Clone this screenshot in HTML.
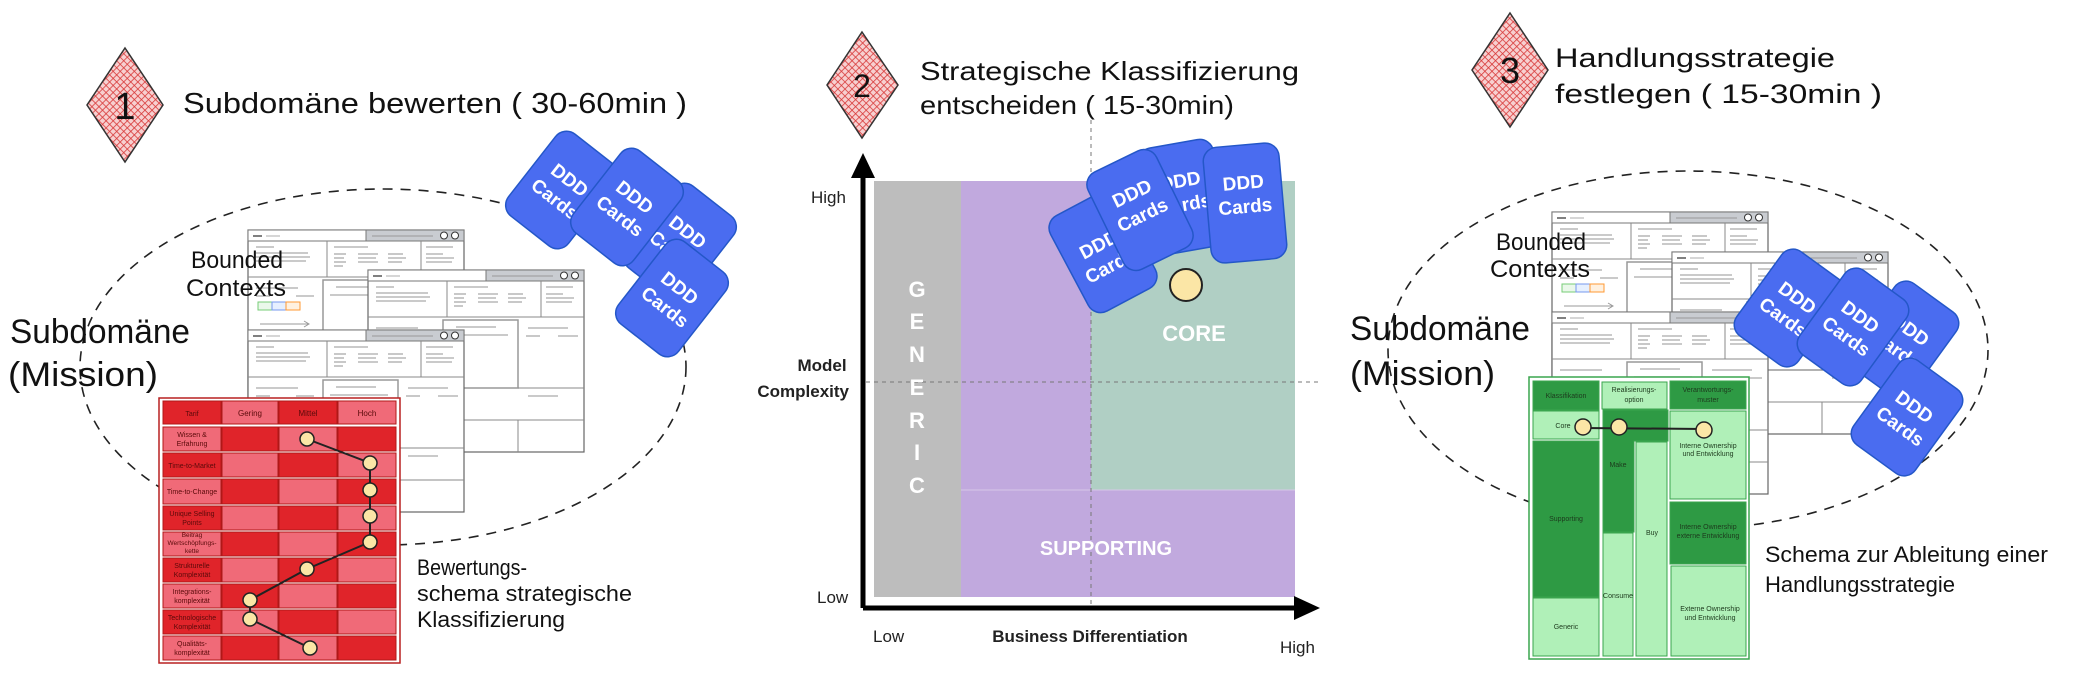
<!DOCTYPE html>
<html><head><meta charset="utf-8"><style>
html,body{margin:0;padding:0;background:#fff;}
svg{display:block;}
.hw{font-family:"Liberation Sans",sans-serif;fill:#111;}
.tiny{font-family:"Liberation Sans",sans-serif;font-size:7px;}
.card text{font-family:"Liberation Sans",sans-serif;font-size:19px;font-weight:bold;fill:#fff;text-anchor:middle;}
</style></head><body>
<svg width="2080" height="673" viewBox="0 0 2080 673" xmlns="http://www.w3.org/2000/svg">
<defs>
<pattern id="hatch" width="5" height="5" patternUnits="userSpaceOnUse" patternTransform="rotate(45)">
<rect width="5" height="5" fill="#f7d0d0"/>
<line x1="0" y1="0" x2="0" y2="5" stroke="#d83a3a" stroke-width="1.6"/>
<line x1="0" y1="0" x2="5" y2="0" stroke="#d83a3a" stroke-width="1.6"/>
</pattern>
<g id="sheet">
<rect x="0" y="0" width="216" height="182" fill="#fff" stroke="#666" stroke-width="1.2"/>
<rect x="0" y="0" width="216" height="11" fill="#fff" stroke="#777"/>
<rect x="118" y="0" width="98" height="11" fill="#c9ccd1" stroke="#777"/>
<circle cx="196" cy="5.5" r="3.5" fill="#fff" stroke="#333"/>
<circle cx="207" cy="5.5" r="3.5" fill="#fff" stroke="#333"/>
<line x1="5" y1="6" x2="14" y2="6" stroke="#555" stroke-width="1.5"/>
<line x1="18" y1="6" x2="32" y2="6" stroke="#bbb" stroke-width="1.2"/>
<line x1="124" y1="6" x2="185" y2="6" stroke="#999" stroke-width="1"/>
<line x1="0" y1="47" x2="216" y2="47" stroke="#888"/>
<line x1="79" y1="11" x2="79" y2="47" stroke="#888"/>
<line x1="173" y1="11" x2="173" y2="47" stroke="#888"/>
<g stroke="#aaa" stroke-width="1.3">
<line x1="8" y1="17" x2="26" y2="17"/><line x1="8" y1="23" x2="60" y2="23"/><line x1="8" y1="27" x2="62" y2="27"/><line x1="8" y1="31" x2="58" y2="31"/>
<line x1="86" y1="17" x2="120" y2="17"/><line x1="86" y1="24" x2="98" y2="24"/><line x1="86" y1="28" x2="96" y2="28"/><line x1="86" y1="32" x2="98" y2="32"/><line x1="86" y1="36" x2="95" y2="36"/>
<line x1="110" y1="24" x2="130" y2="24"/><line x1="110" y1="28" x2="128" y2="28"/><line x1="110" y1="32" x2="130" y2="32"/>
<line x1="140" y1="24" x2="155" y2="24"/><line x1="140" y1="28" x2="158" y2="28"/><line x1="140" y1="32" x2="154" y2="32"/>
<line x1="178" y1="17" x2="205" y2="17"/><line x1="178" y1="24" x2="195" y2="24"/><line x1="178" y1="28" x2="206" y2="28"/><line x1="178" y1="32" x2="204" y2="32"/>
<line x1="8" y1="58" x2="50" y2="58"/><line x1="8" y1="66" x2="22" y2="66"/><line x1="48" y1="66" x2="66" y2="66"/>
<line x1="88" y1="57" x2="128" y2="57"/><line x1="82" y1="65" x2="140" y2="65"/>
<line x1="160" y1="58" x2="200" y2="58"/><line x1="158" y1="66" x2="172" y2="66"/><line x1="190" y1="66" x2="210" y2="66"/>
<line x1="8" y1="126" x2="60" y2="126"/><line x1="8" y1="133" x2="90" y2="133"/><line x1="160" y1="126" x2="190" y2="126"/>
</g>
<rect x="75" y="50" width="75" height="68" fill="none" stroke="#999" stroke-width="1.5"/>
<line x1="150" y1="118" x2="216" y2="118" stroke="#888"/>
<line x1="0" y1="118" x2="75" y2="118" stroke="#888"/>
<rect x="10" y="72" width="14" height="8" fill="#eaf8ea" stroke="#7c7"/>
<rect x="24" y="72" width="14" height="8" fill="#e6f0ff" stroke="#79e"/>
<rect x="38" y="72" width="14" height="8" fill="#fff1e0" stroke="#f93"/>
<line x1="12" y1="94" x2="60" y2="94" stroke="#999"/>
<path d="M56 91 L61 94 L56 97" fill="none" stroke="#999"/>
<line x1="0" y1="150" x2="216" y2="150" stroke="#888"/>
<line x1="150" y1="150" x2="150" y2="182" stroke="#888"/>
</g>
</defs>

<!-- ================= SECTION 1 ================= -->
<polygon points="125,48 163,105 125,162 87,105" fill="url(#hatch)" stroke="#333" stroke-width="1.5"/>
<text x="125" y="119" font-size="38" text-anchor="middle" class="hw">1</text>
<text x="183" y="113" font-size="29" class="hw" textLength="504" lengthAdjust="spacingAndGlyphs">Subdomäne bewerten ( 30-60min )</text>

<ellipse cx="383" cy="367" rx="303" ry="178" fill="none" stroke="#222" stroke-width="1.6" stroke-dasharray="10 8"/>
<text x="10" y="343" font-size="34" class="hw" textLength="180" lengthAdjust="spacingAndGlyphs">Subdomäne</text>
<text x="8" y="386" font-size="34" class="hw" textLength="150" lengthAdjust="spacingAndGlyphs">(Mission)</text>

<use href="#sheet" x="248" y="230"/>
<use href="#sheet" x="368" y="270"/>
<use href="#sheet" x="248" y="330"/>
<text x="191" y="268" font-size="24" class="hw" textLength="92" lengthAdjust="spacingAndGlyphs">Bounded</text>
<text x="186" y="296" font-size="24" class="hw" textLength="100" lengthAdjust="spacingAndGlyphs">Contexts</text>

<g class="card">
<g transform="translate(562,190) rotate(38)"><rect x="-38" y="-52" width="76" height="104" rx="14" fill="#4a6cf0" stroke="#2457c8" stroke-width="1.5"/><text y="-6">DDD</text><text y="18">Cards</text></g>
<g transform="translate(680,242) rotate(38)"><rect x="-38" y="-52" width="76" height="104" rx="14" fill="#4a6cf0" stroke="#2457c8" stroke-width="1.5"/><text y="-6">DDD</text><text y="18">Cards</text></g>
<g transform="translate(627,207) rotate(38)"><rect x="-38" y="-52" width="76" height="104" rx="14" fill="#4a6cf0" stroke="#2457c8" stroke-width="1.5"/><text y="-6">DDD</text><text y="18">Cards</text></g>
<g transform="translate(672,298) rotate(38)"><rect x="-38" y="-52" width="76" height="104" rx="14" fill="#4a6cf0" stroke="#2457c8" stroke-width="1.5"/><text y="-6">DDD</text><text y="18">Cards</text></g>
</g>

<!-- red table -->
<rect x="159" y="398" width="241" height="265" fill="#fff" stroke="#b82020" stroke-width="1.5"/>
<g stroke="#b01818" stroke-width="1">
<!-- rows generated manually -->
<rect x="163" y="401" width="58" height="23" fill="#e0242a"/><rect x="222" y="401" width="56" height="23" fill="#f06a78"/><rect x="279" y="401" width="58" height="23" fill="#e0242a"/><rect x="338" y="401" width="58" height="23" fill="#f06a78"/>
<rect x="163" y="427" width="58" height="24" fill="#f06a78"/><rect x="222" y="427" width="56" height="24" fill="#e0242a"/><rect x="279" y="427" width="58" height="24" fill="#f06a78"/><rect x="338" y="427" width="58" height="24" fill="#e0242a"/>
<rect x="163" y="453" width="58" height="24" fill="#e0242a"/><rect x="222" y="453" width="56" height="24" fill="#f06a78"/><rect x="279" y="453" width="58" height="24" fill="#e0242a"/><rect x="338" y="453" width="58" height="24" fill="#f06a78"/>
<rect x="163" y="479" width="58" height="25" fill="#f06a78"/><rect x="222" y="479" width="56" height="25" fill="#e0242a"/><rect x="279" y="479" width="58" height="25" fill="#f06a78"/><rect x="338" y="479" width="58" height="25" fill="#e0242a"/>
<rect x="163" y="506" width="58" height="24" fill="#e0242a"/><rect x="222" y="506" width="56" height="24" fill="#f06a78"/><rect x="279" y="506" width="58" height="24" fill="#e0242a"/><rect x="338" y="506" width="58" height="24" fill="#f06a78"/>
<rect x="163" y="532" width="58" height="24" fill="#f06a78"/><rect x="222" y="532" width="56" height="24" fill="#e0242a"/><rect x="279" y="532" width="58" height="24" fill="#f06a78"/><rect x="338" y="532" width="58" height="24" fill="#e0242a"/>
<rect x="163" y="558" width="58" height="24" fill="#e0242a"/><rect x="222" y="558" width="56" height="24" fill="#f06a78"/><rect x="279" y="558" width="58" height="24" fill="#e0242a"/><rect x="338" y="558" width="58" height="24" fill="#f06a78"/>
<rect x="163" y="584" width="58" height="24" fill="#f06a78"/><rect x="222" y="584" width="56" height="24" fill="#e0242a"/><rect x="279" y="584" width="58" height="24" fill="#f06a78"/><rect x="338" y="584" width="58" height="24" fill="#e0242a"/>
<rect x="163" y="610" width="58" height="24" fill="#e0242a"/><rect x="222" y="610" width="56" height="24" fill="#f06a78"/><rect x="279" y="610" width="58" height="24" fill="#e0242a"/><rect x="338" y="610" width="58" height="24" fill="#f06a78"/>
<rect x="163" y="636" width="58" height="24" fill="#f06a78"/><rect x="222" y="636" width="56" height="24" fill="#e0242a"/><rect x="279" y="636" width="58" height="24" fill="#f06a78"/><rect x="338" y="636" width="58" height="24" fill="#e0242a"/>
</g>
<g class="tiny" fill="#5a0a0a" text-anchor="middle">
<text x="192" y="416">Tarif</text><text x="250" y="416" font-size="8">Gering</text><text x="308" y="416" font-size="8">Mittel</text><text x="367" y="416" font-size="8">Hoch</text>
<text x="192" y="437">Wissen &amp;</text><text x="192" y="446">Erfahrung</text>
<text x="192" y="468">Time-to-Market</text>
<text x="192" y="494">Time-to-Change</text>
<text x="192" y="516">Unique Selling</text><text x="192" y="525">Points</text>
<text x="192" y="537" font-size="6.5">Beitrag</text><text x="192" y="545" font-size="6.5">Wertschöpfungs-</text><text x="192" y="553" font-size="6.5">kette</text>
<text x="192" y="568">Strukturelle</text><text x="192" y="577">Komplexität</text>
<text x="192" y="594">Integrations-</text><text x="192" y="603">komplexität</text>
<text x="192" y="620">Technologische</text><text x="192" y="629">Komplexität</text>
<text x="192" y="646">Qualitäts-</text><text x="192" y="655">komplexität</text>
</g>
<polyline points="307,439 370,463 370,490 370,516 370,542 307,569 250,600 250,619 310,648" fill="none" stroke="#222" stroke-width="2"/>
<g fill="#fbe6a6" stroke="#222" stroke-width="1.5">
<circle cx="307" cy="439" r="7"/><circle cx="370" cy="463" r="7"/><circle cx="370" cy="490" r="7"/><circle cx="370" cy="516" r="7"/><circle cx="370" cy="542" r="7"/><circle cx="307" cy="569" r="7"/><circle cx="250" cy="600" r="7"/><circle cx="250" cy="619" r="7"/><circle cx="310" cy="648" r="7"/>
</g>
<text x="417" y="575" font-size="22" class="hw" textLength="110" lengthAdjust="spacingAndGlyphs">Bewertungs-</text>
<text x="417" y="601" font-size="22" class="hw" textLength="215" lengthAdjust="spacingAndGlyphs">schema strategische</text>
<text x="417" y="627" font-size="22" class="hw" textLength="148" lengthAdjust="spacingAndGlyphs">Klassifizierung</text>

<!-- ================= SECTION 2 ================= -->
<polygon points="862,32 898,85 862,138 827,85" fill="url(#hatch)" stroke="#333" stroke-width="1.5"/>
<text x="862" y="97" font-size="32" text-anchor="middle" class="hw">2</text>
<text x="920" y="80" font-size="26" class="hw" textLength="379" lengthAdjust="spacingAndGlyphs">Strategische Klassifizierung</text>
<text x="920" y="114" font-size="26" class="hw" textLength="314" lengthAdjust="spacingAndGlyphs">entscheiden ( 15-30min)</text>

<rect x="874" y="181" width="87" height="416" fill="#bdbdbd"/>
<rect x="961" y="181" width="334" height="416" fill="#c1a9de"/>
<rect x="1091" y="181" width="204" height="309" fill="#b0cfc4"/>
<line x1="961" y1="490" x2="1295" y2="490" stroke="#d6c8e8" stroke-width="1"/>
<line x1="1091" y1="120" x2="1091" y2="606" stroke="#777" stroke-width="1" stroke-dasharray="4 4"/>
<line x1="866" y1="382" x2="1320" y2="382" stroke="#777" stroke-width="1" stroke-dasharray="4 4"/>
<g font-family="Liberation Sans, sans-serif" font-weight="bold" fill="#fff" font-size="22" text-anchor="middle">
<text x="917" y="297">G</text><text x="917" y="329">E</text><text x="917" y="362">N</text><text x="917" y="395">E</text><text x="917" y="428">R</text><text x="917" y="460">I</text><text x="917" y="493">C</text>
<text x="1194" y="341">CORE</text>
<text x="1106" y="555" font-size="20">SUPPORTING</text>
</g>
<line x1="863" y1="608" x2="863" y2="172" stroke="#000" stroke-width="5"/>
<polygon points="863,153 851,178 875,178" fill="#000"/>
<line x1="863" y1="608" x2="1298" y2="608" stroke="#000" stroke-width="5"/>
<polygon points="1320,608 1294,596 1294,620" fill="#000"/>
<g font-family="Liberation Sans, sans-serif" font-size="17" fill="#222">
<text x="811" y="203">High</text>
<text x="817" y="603">Low</text>
<text x="873" y="642">Low</text>
<text x="1280" y="653">High</text>
<text x="822" y="371" font-weight="bold" text-anchor="middle">Model</text>
<text x="849" y="397" font-weight="bold" text-anchor="end">Complexity</text>
<text x="1090" y="642" font-weight="bold" text-anchor="middle">Business Differentiation</text>
</g>
<g class="card">
<g transform="translate(1183,197) rotate(-10)"><rect x="-38" y="-54" width="76" height="108" rx="14" fill="#4a6cf0" stroke="#2457c8" stroke-width="1.5"/><text y="-10">DDD</text><text y="14">Cards</text></g>
<g transform="translate(1103,252) rotate(-28)"><rect x="-38" y="-54" width="76" height="108" rx="14" fill="#4a6cf0" stroke="#2457c8" stroke-width="1.5"/><text y="-2">DDD</text><text y="22">Cards</text></g>
<g transform="translate(1245,203) rotate(-5)"><rect x="-38" y="-58" width="76" height="116" rx="14" fill="#4a6cf0" stroke="#2457c8" stroke-width="1.5"/><text y="-14">DDD</text><text y="10">Cards</text></g>
<g transform="translate(1140,210) rotate(-26)"><rect x="-38" y="-54" width="76" height="108" rx="14" fill="#4a6cf0" stroke="#2457c8" stroke-width="1.5"/><text y="-12">DDD</text><text y="12">Cards</text></g>
</g>
<circle cx="1186" cy="285" r="16" fill="#fbe6a6" stroke="#222" stroke-width="2"/>

<!-- ================= SECTION 3 ================= -->
<polygon points="1510,13 1548,70 1510,127 1472,70" fill="url(#hatch)" stroke="#333" stroke-width="1.5"/>
<text x="1510" y="83" font-size="36" text-anchor="middle" class="hw">3</text>
<text x="1555" y="67" font-size="27" class="hw" textLength="280" lengthAdjust="spacingAndGlyphs">Handlungsstrategie</text>
<text x="1555" y="103" font-size="27" class="hw" textLength="327" lengthAdjust="spacingAndGlyphs">festlegen ( 15-30min )</text>

<ellipse cx="1688" cy="350" rx="300" ry="179" fill="none" stroke="#222" stroke-width="1.6" stroke-dasharray="10 8"/>
<text x="1350" y="340" font-size="34" class="hw" textLength="180" lengthAdjust="spacingAndGlyphs">Subdomäne</text>
<text x="1350" y="385" font-size="34" class="hw" textLength="145" lengthAdjust="spacingAndGlyphs">(Mission)</text>

<use href="#sheet" x="1552" y="212"/>
<use href="#sheet" x="1672" y="252"/>
<use href="#sheet" x="1552" y="312"/>
<text x="1496" y="250" font-size="24" class="hw" textLength="90" lengthAdjust="spacingAndGlyphs">Bounded</text>
<text x="1490" y="277" font-size="24" class="hw" textLength="100" lengthAdjust="spacingAndGlyphs">Contexts</text>

<g class="card">
<g transform="translate(1790,308) rotate(36)"><rect x="-38" y="-52" width="76" height="104" rx="14" fill="#4a6cf0" stroke="#2457c8" stroke-width="1.5"/><text y="-6">DDD</text><text y="18">Cards</text></g>
<g transform="translate(1903,340) rotate(36)"><rect x="-38" y="-52" width="76" height="104" rx="14" fill="#4a6cf0" stroke="#2457c8" stroke-width="1.5"/><text y="-6">DDD</text><text y="18">Cards</text></g>
<g transform="translate(1853,327) rotate(36)"><rect x="-38" y="-52" width="76" height="104" rx="14" fill="#4a6cf0" stroke="#2457c8" stroke-width="1.5"/><text y="-6">DDD</text><text y="18">Cards</text></g>
<g transform="translate(1907,417) rotate(36)"><rect x="-38" y="-52" width="76" height="104" rx="14" fill="#4a6cf0" stroke="#2457c8" stroke-width="1.5"/><text y="-6">DDD</text><text y="18">Cards</text></g>
</g>

<!-- green table -->
<rect x="1529" y="377" width="220" height="282" fill="#fff" stroke="#3aa54e" stroke-width="1.5"/>
<g stroke="#3aa54e" stroke-width="1">
<rect x="1533" y="381" width="66" height="29" fill="#2e9a44"/>
<rect x="1533" y="411" width="66" height="28" fill="#b0f0b8"/>
<rect x="1533" y="441" width="66" height="156" fill="#2e9a44"/>
<rect x="1533" y="598" width="66" height="58" fill="#b0f0b8"/>
<rect x="1602" y="382" width="65" height="27" fill="#b0f0b8"/>
<path d="M1603 410 H1668 V441 H1634 V532 H1603 Z" fill="#2e9a44"/>
<rect x="1603" y="533" width="30" height="123" fill="#b0f0b8"/>
<rect x="1636" y="442" width="31" height="214" fill="#b0f0b8"/>
<rect x="1670" y="381" width="76" height="28" fill="#2e9a44"/>
<rect x="1670" y="411" width="76" height="88" fill="#b0f0b8"/>
<rect x="1670" y="502" width="76" height="62" fill="#2e9a44"/>
<rect x="1671" y="566" width="75" height="90" fill="#b0f0b8"/>
</g>
<g class="tiny" fill="#1d3a1d" text-anchor="middle">
<text x="1566" y="398">Klassifikation</text>
<text x="1634" y="392">Realisierungs-</text><text x="1634" y="402">option</text>
<text x="1708" y="392">Verantwortungs-</text><text x="1708" y="402">muster</text>
<text x="1563" y="428">Core</text>
<text x="1566" y="521">Supporting</text>
<text x="1566" y="629">Generic</text>
<text x="1618" y="467">Make</text>
<text x="1618" y="598">Consume</text>
<text x="1652" y="535">Buy</text>
<text x="1708" y="448">Interne Ownership</text><text x="1708" y="456">und Entwicklung</text>
<text x="1708" y="529">Interne Ownership</text><text x="1708" y="538">externe Entwicklung</text>
<text x="1710" y="611">Externe Ownership</text><text x="1710" y="620">und Entwicklung</text>
</g>
<line x1="1583" y1="428" x2="1704" y2="429" stroke="#222" stroke-width="2"/>
<g fill="#fbe6a6" stroke="#222" stroke-width="1.5">
<circle cx="1583" cy="427" r="8"/><circle cx="1619" cy="427" r="8"/><circle cx="1704" cy="430" r="8"/>
</g>
<text x="1765" y="562" font-size="22" class="hw" textLength="283" lengthAdjust="spacingAndGlyphs">Schema zur Ableitung einer</text>
<text x="1765" y="592" font-size="22" class="hw" textLength="190" lengthAdjust="spacingAndGlyphs">Handlungsstrategie</text>
</svg>
</body></html>
